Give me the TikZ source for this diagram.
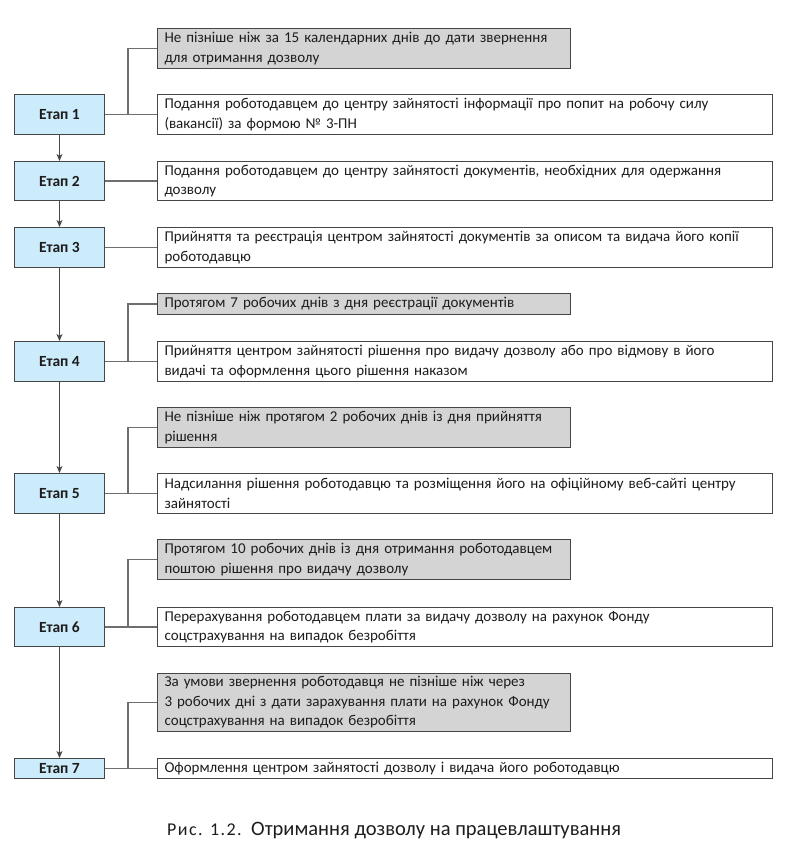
\documentclass[tikz,border=0pt]{standalone}
\usepackage{fontspec}
\setmainfont{Carlito}
\usetikzlibrary{arrows.meta,positioning,calc}
\definecolor{stagefill}{RGB}{204,236,251}
\definecolor{termfill}{RGB}{212,212,212}
\definecolor{edgecol}{RGB}{70,70,70}
\definecolor{linkcol}{RGB}{110,110,110}
\definecolor{txt}{RGB}{30,28,29}
\tikzset{
  stagebox/.style={draw=edgecol, line width=1pt, fill=stagefill, anchor=north west,
    minimum width=90pt, inner sep=0pt, font=\fontsize{15.5}{18}\selectfont\bfseries, text=txt},
  whitebox/.style={draw=edgecol, line width=1pt, fill=white, anchor=north west,
    text width=601pt, inner xsep=7pt, inner ysep=0pt, align=left,
    font=\fontsize{15}{19.5}\selectfont, text=txt},
  graybox/.style={whitebox, fill=termfill, text width=399pt},
  link/.style={draw=linkcol, line width=1.3pt},
  flow/.style={draw=edgecol, line width=1.2pt, -{Stealth[length=7pt,width=6pt,inset=2pt]}}
}
\begin{document}
\begin{tikzpicture}[x=1pt,y=-1pt]
\useasboundingbox (0,0) rectangle (788,851);
% stage boxes
\node[stagebox, minimum height=40pt] (e1) at (14,94) {Етап 1};
\node[stagebox, minimum height=39pt] (e2) at (14,161) {Етап 2};
\node[stagebox, minimum height=40pt] (e3) at (14,227) {Етап 3};
\node[stagebox, minimum height=40pt] (e4) at (14,341) {Етап 4};
\node[stagebox, minimum height=40pt] (e5) at (14,473) {Етап 5};
\node[stagebox, minimum height=39pt] (e6) at (14,607) {Етап 6};
\node[stagebox, minimum height=20pt] (e7) at (14,758) {Етап 7};
% white boxes
\node[whitebox, minimum height=40pt] (w1) at (157,94) {Подання роботодавцем до центру зайнятості інформації про попит на робочу силу\\(вакансії) за формою № 3-ПН};
\node[whitebox, minimum height=39pt] (w2) at (157,161) {Подання роботодавцем до центру зайнятості документів, необхідних для одержання\\дозволу};
\node[whitebox, minimum height=40pt] (w3) at (157,227) {Прийняття та реєстрація центром зайнятості документів за описом та видача його копії\\роботодавцю};
\node[whitebox, minimum height=40pt] (w4) at (157,341) {Прийняття центром зайнятості рішення про видачу дозволу або про відмову в його\\видачі та оформлення цього рішення наказом};
\node[whitebox, minimum height=40pt] (w5) at (157,473) {Надсилання рішення роботодавцю та розміщення його на офіційному веб-сайті центру\\зайнятості};
\node[whitebox, minimum height=39pt] (w6) at (157,607) {Перерахування роботодавцем плати за видачу дозволу на рахунок Фонду\\соцстрахування на випадок безробіття};
\node[whitebox, minimum height=20pt] (w7) at (157,758) {Оформлення центром зайнятості дозволу і видача його роботодавцю};
% gray boxes
\node[graybox, minimum height=40pt] (g1) at (157,28) {Не пізніше ніж за 15 календарних днів до дати звернення\\для отримання дозволу};
\node[graybox, minimum height=21pt] (g4) at (157,293) {Протягом 7 робочих днів з дня реєстрації документів};
\node[graybox, minimum height=40pt] (g5) at (157,407) {Не пізніше ніж протягом 2 робочих днів із дня прийняття\\рішення};
\node[graybox, minimum height=40pt] (g6) at (157,539) {Протягом 10 робочих днів із дня отримання роботодавцем\\поштою рішення про видачу дозволу};
\node[graybox, minimum height=58pt] (g7) at (157,673) {За умови звернення роботодавця не пізніше ніж через\\3 робочих дні з дати зарахування плати на рахунок Фонду\\соцстрахування на випадок безробіття};
% junction points
\coordinate (j1) at (128,114);
\coordinate (j4) at (128,361);
\coordinate (j5) at (128,493);
\coordinate (j6) at (128,627);
\coordinate (j7) at (128,768);
% links
\draw[link] (e1.east) -- (w1.west);
\draw[link] (j1) |- (g1.west);
\draw[link] (e2.east) -- (w2.west);
\draw[link] (e3.east) -- (w3.west);
\draw[link] (e4.east) -- (w4.west);
\draw[link] (j4) |- (g4.west);
\draw[link] (e5.east) -- (w5.west);
\draw[link] (j5) |- (g5.west);
\draw[link] (e6.east) -- (w6.west);
\draw[link] (j6) |- (g6.west);
\draw[link] (e7.east) -- (w7.west);
\draw[link] (j7) |- (g7.west);
% flow arrows
\draw[flow] (e1) -- (e2);
\draw[flow] (e2) -- (e3);
\draw[flow] (e3) -- (e4);
\draw[flow] (e4) -- (e5);
\draw[flow] (e5) -- (e6);
\draw[flow] (e6) -- (e7);
% caption
\node[anchor=base west, inner sep=0pt, text=txt, font=\fontsize{18}{20}\selectfont\addfontfeature{LetterSpace=8}] (capa) at (167,835) {Рис. 1.2.};
\node[anchor=base west, inner sep=0pt, text=txt, font=\fontsize{20.5}{24}\selectfont] (capb) at (251,835) {Отримання дозволу на працевлаштування};
\end{tikzpicture}
\end{document}
